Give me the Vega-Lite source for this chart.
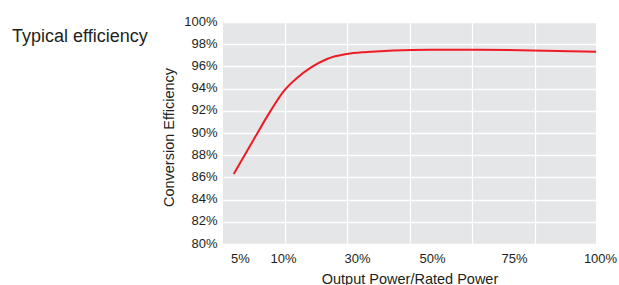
{
  "$schema": "https://vega.github.io/schema/vega-lite/v6.json",
  "width": 373,
  "height": 222,
  "autosize": {"type": "none"},
  "padding": {"left": 223, "top": 22, "right": 23, "bottom": 41},
  "background": "white",
  "config": {"font": "Liberation Sans", "view": {"fill": "#e5e6e8", "stroke": null}},
  "title": {"text": "Typical efficiency", "anchor": "start", "frame": "group", "orient": "top", "offset": 0, "dx": -211, "dy": 45, "baseline": "alphabetic", "fontSize": 18, "fontWeight": "normal", "color": "#231f20", "font": "Liberation Sans"},
  "data": {"values": [
    {"load": 4.26, "eff": 86.3},
    {"load": 6.58, "eff": 89.4},
    {"load": 8.52, "eff": 91.95},
    {"load": 10.16, "eff": 93.75},
    {"load": 13.78, "eff": 94.95},
    {"load": 17.38, "eff": 95.86},
    {"load": 21.89, "eff": 96.67},
    {"load": 27.3, "eff": 97.12},
    {"load": 32.67, "eff": 97.3},
    {"load": 39.76, "eff": 97.44},
    {"load": 49.55, "eff": 97.5},
    {"load": 61.68, "eff": 97.5},
    {"load": 76.9, "eff": 97.46},
    {"load": 100, "eff": 97.32}
  ]},
  "mark": {"type": "line", "color": "#ed1c24", "strokeWidth": 2, "interpolate": "monotone"},
  "encoding": {
    "x": {
      "field": "load", "type": "quantitative",
      "scale": {"domain": [3.02, 5, 10, 30, 50, 75, 100], "range": [0, 17, 60, 134, 209, 291, 373], "nice": false, "zero": false},
      "axis": {
        "values": [5, 10, 30, 50, 75, 100, 10.54, 27.38, 44.13, 62.07, 81.28],
        "labelExpr": "indexof([5,10,30,50,75,100], datum.value) >= 0 ? datum.value + '%' : ''",
        "labelOverlap": false,
        "labelFlush": false,
        "labelOffset": {"condition": {"test": "datum.value == 100", "value": 4}, "value": 0},
        "gridOpacity": {"condition": {"test": "indexof([5,10,30,50,75,100], datum.value) >= 0", "value": 0}, "value": 1},
        "gridColor": "white",
        "gridWidth": 1.3,
        "domain": false,
        "ticks": false,
        "tickSize": 0,
        "labelPadding": 8,
        "labelFontSize": 13,
        "labelColor": "#231f20",
        "title": "Output Power/Rated Power",
        "titleFontSize": 14.5,
        "titleFontWeight": "normal",
        "titleColor": "#231f20",
        "titlePadding": 7
      }
    },
    "y": {
      "field": "eff", "type": "quantitative",
      "scale": {"domain": [80, 100], "nice": false, "zero": false},
      "axis": {
        "values": [80, 82, 84, 86, 88, 90, 92, 94, 96, 98, 100],
        "labelExpr": "datum.value + '%'",
        "domain": false,
        "ticks": false,
        "tickSize": 0,
        "labelPadding": 6,
        "labelOffset": -1,
        "labelFontSize": 13,
        "labelColor": "#231f20",
        "gridColor": "white",
        "gridWidth": 1.3,
        "title": "Conversion Efficiency",
        "titleFontSize": 14.5,
        "titleFontWeight": "normal",
        "titleColor": "#231f20",
        "titlePadding": 7,
        "titleY": 115
      }
    }
  }
}
